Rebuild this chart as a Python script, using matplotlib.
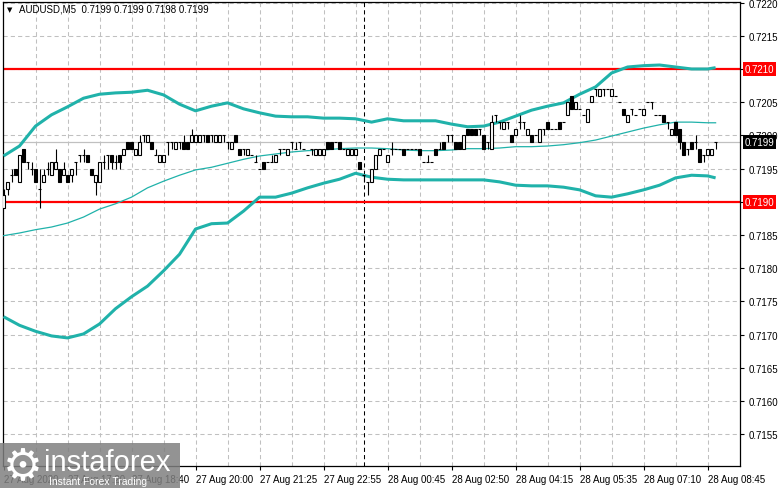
import numpy as np
import matplotlib
matplotlib.use("Agg")
import matplotlib.pyplot as plt
import matplotlib.transforms as mtransforms
from matplotlib.patches import Rectangle

# ── data ──
title_text = "AUDUSD,M5  0.7199 0.7199 0.7198 0.7199"

# M5 candles, prices in points (x 0.0001)
opens = [
    7189, 7192, 7194, 7195, 7193, 7198, 7196, 7195, 7195, 7192,
    7193, 7195, 7194, 7195, 7195, 7194, 7194, 7194, 7196, 7197,
    7197, 7197, 7195, 7193, 7193, 7196, 7197, 7197, 7196, 7197,
    7197, 7199, 7199, 7197, 7197, 7200, 7199, 7199, 7197, 7196,
    7196, 7199, 7199, 7198, 7199, 7199, 7199, 7199, 7199, 7199,
    7200, 7200, 7200, 7199, 7199, 7200, 7199, 7198, 7200, 7198,
    7198, 7197, 7197, 7196, 7195, 7196, 7196, 7196, 7196, 7198,
    7198, 7197, 7199, 7198, 7199, 7198, 7197, 7198, 7197, 7197,
    7197, 7199, 7199, 7199, 7199, 7198, 7197, 7197, 7197, 7196,
    7194, 7193, 7193, 7195, 7197, 7198, 7196, 7198, 7198, 7198,
    7198, 7198, 7198, 7198, 7198, 7196, 7196, 7196, 7198, 7198,
    7199, 7200, 7200, 7199, 7199, 7198, 7201, 7201, 7201, 7201,
    7200, 7199, 7198, 7203, 7202, 7201, 7202, 7200, 7200, 7202,
    7202, 7200, 7200, 7200, 7199, 7201, 7202, 7201, 7201, 7202,
    7202, 7203, 7206, 7204, 7204, 7203, 7202, 7205, 7207, 7206,
    7207, 7207, 7206, 7206, 7205, 7204, 7202, 7204, 7203, 7204,
    7203, 7205, 7205, 7203, 7203, 7203, 7202, 7200, 7202, 7201,
    7199, 7198, 7199, 7199, 7198, 7197, 7197, 7197, 7199,
]
highs = [
    7192, 7193, 7195, 7195, 7197, 7198, 7196, 7196, 7195, 7195,
    7195, 7196, 7196, 7198, 7195, 7196, 7194, 7195, 7196, 7197,
    7198, 7197, 7195, 7194, 7196, 7197, 7197, 7197, 7197, 7197,
    7198, 7199, 7199, 7198, 7200, 7200, 7200, 7199, 7198, 7197,
    7197, 7199, 7199, 7199, 7199, 7200, 7199, 7201, 7200, 7200,
    7200, 7200, 7200, 7200, 7200, 7200, 7199, 7199, 7200, 7198,
    7198, 7198, 7197, 7197, 7195, 7196, 7196, 7197, 7197, 7198,
    7198, 7198, 7199, 7199, 7199, 7198, 7197, 7198, 7198, 7198,
    7198, 7199, 7199, 7199, 7199, 7198, 7198, 7198, 7198, 7196,
    7194, 7193, 7195, 7197, 7198, 7198, 7197, 7199, 7198, 7198,
    7198, 7198, 7198, 7198, 7198, 7196, 7197, 7196, 7198, 7199,
    7199, 7200, 7200, 7199, 7199, 7200, 7201, 7201, 7201, 7201,
    7200, 7199, 7203, 7203, 7202, 7202, 7202, 7200, 7201, 7203,
    7202, 7201, 7200, 7200, 7201, 7201, 7202, 7201, 7201, 7202,
    7202, 7205, 7206, 7205, 7204, 7203, 7204, 7206, 7207, 7207,
    7207, 7207, 7207, 7206, 7205, 7204, 7203, 7204, 7203, 7204,
    7204, 7205, 7205, 7203, 7203, 7203, 7202, 7201, 7202, 7201,
    7199, 7198, 7199, 7200, 7198, 7197, 7198, 7198, 7199,
]
lows = [
    7189, 7191, 7193, 7194, 7193, 7196, 7195, 7194, 7193, 7189,
    7193, 7194, 7194, 7195, 7193, 7194, 7193, 7193, 7194, 7196,
    7196, 7196, 7194, 7191, 7193, 7195, 7195, 7195, 7195, 7195,
    7197, 7198, 7198, 7197, 7197, 7199, 7199, 7198, 7197, 7196,
    7196, 7197, 7198, 7198, 7198, 7198, 7198, 7199, 7199, 7199,
    7199, 7199, 7199, 7199, 7199, 7199, 7198, 7198, 7199, 7197,
    7197, 7197, 7197, 7196, 7195, 7195, 7196, 7196, 7196, 7197,
    7198, 7197, 7198, 7198, 7198, 7198, 7197, 7197, 7197, 7197,
    7197, 7198, 7198, 7199, 7198, 7198, 7197, 7197, 7197, 7195,
    7193, 7191, 7193, 7195, 7197, 7198, 7196, 7197, 7198, 7198,
    7197, 7198, 7198, 7198, 7197, 7196, 7196, 7196, 7197, 7198,
    7198, 7199, 7199, 7198, 7198, 7198, 7200, 7200, 7200, 7200,
    7198, 7198, 7198, 7202, 7201, 7201, 7201, 7199, 7200, 7201,
    7201, 7200, 7199, 7200, 7199, 7200, 7201, 7201, 7201, 7201,
    7202, 7203, 7204, 7204, 7204, 7203, 7202, 7205, 7206, 7206,
    7206, 7207, 7206, 7206, 7205, 7203, 7202, 7203, 7203, 7204,
    7203, 7205, 7204, 7203, 7203, 7202, 7201, 7200, 7200, 7198,
    7197, 7197, 7198, 7198, 7196, 7196, 7197, 7197, 7198,
]
closes = [
    7191, 7193, 7194, 7194, 7197, 7196, 7196, 7195, 7193, 7192,
    7194, 7195, 7196, 7196, 7193, 7195, 7193, 7195, 7196, 7197,
    7197, 7196, 7194, 7194, 7196, 7196, 7197, 7196, 7196, 7196,
    7198, 7198, 7198, 7198, 7199, 7200, 7200, 7198, 7197, 7197,
    7197, 7199, 7199, 7199, 7199, 7198, 7198, 7200, 7200, 7200,
    7200, 7199, 7200, 7200, 7200, 7200, 7199, 7199, 7199, 7197,
    7198, 7198, 7197, 7196, 7195, 7195, 7196, 7196, 7197, 7198,
    7198, 7198, 7199, 7198, 7199, 7198, 7197, 7198, 7198, 7198,
    7198, 7198, 7198, 7199, 7198, 7198, 7198, 7198, 7198, 7195,
    7194, 7193, 7195, 7197, 7198, 7198, 7197, 7198, 7198, 7198,
    7197, 7198, 7198, 7198, 7197, 7196, 7196, 7196, 7197, 7198,
    7198, 7200, 7200, 7198, 7198, 7200, 7200, 7200, 7200, 7201,
    7198, 7199, 7202, 7203, 7202, 7202, 7202, 7199, 7201, 7202,
    7202, 7201, 7199, 7200, 7201, 7201, 7201, 7201, 7201, 7201,
    7202, 7205, 7204, 7205, 7204, 7203, 7204, 7206, 7207, 7207,
    7207, 7207, 7207, 7206, 7205, 7203, 7203, 7204, 7203, 7204,
    7204, 7205, 7205, 7203, 7203, 7202, 7202, 7201, 7200, 7199,
    7197, 7198, 7198, 7199, 7196, 7197, 7198, 7198, 7199,
]

# Bollinger bands, sampled every 4 bars
band_bars = [0, 4, 8, 12, 16, 20, 24, 28, 32, 36, 40, 44, 48, 52, 56, 60,
             64, 68, 72, 76, 80, 84, 88, 92, 96, 100, 104, 108, 112, 116,
             120, 124, 128, 132, 136, 140, 144, 148, 152, 156, 160, 164,
             168, 172, 176, 178]
upper_band = [
    0.71969, 0.71984, 0.72014, 0.72031, 0.72043, 0.72056, 0.72062, 0.72064,
    0.72065, 0.72068, 0.72061, 0.72047, 0.72037, 0.72044, 0.72049, 0.72040,
    0.72034, 0.72029, 0.72028, 0.72028, 0.72026, 0.72026, 0.72025, 0.72020,
    0.72025, 0.72022, 0.72022, 0.72022, 0.72017, 0.72013, 0.72014, 0.72020,
    0.72029, 0.72038, 0.72044, 0.72049, 0.72062, 0.72073, 0.72094, 0.72103,
    0.72105, 0.72106, 0.72103, 0.72100, 0.72100, 0.72102,
]
middle_band = [
    0.71849, 0.71853, 0.71858, 0.71862, 0.71868, 0.71877, 0.71889, 0.71897,
    0.71907, 0.71921, 0.71931, 0.71940, 0.71948, 0.71952, 0.71958, 0.71964,
    0.71969, 0.71972, 0.71975, 0.71977, 0.71978, 0.71980, 0.71981, 0.71981,
    0.71980, 0.71978, 0.71977, 0.71977, 0.71978, 0.71980, 0.71980, 0.71981,
    0.71983, 0.71983, 0.71984, 0.71986, 0.71989, 0.71993, 0.71999, 0.72005,
    0.72011, 0.72016, 0.72020, 0.72020, 0.72019, 0.72019,
]
lower_band = [
    0.71727, 0.71714, 0.71705, 0.71698, 0.71695, 0.71701, 0.71716, 0.71739,
    0.71757, 0.71773, 0.71796, 0.71821, 0.71859, 0.71867, 0.71868, 0.71886,
    0.71907, 0.71907, 0.71913, 0.71921, 0.71928, 0.71934, 0.71943, 0.71937,
    0.71934, 0.71933, 0.71933, 0.71933, 0.71933, 0.71933, 0.71933, 0.71930,
    0.71925, 0.71924, 0.71924, 0.71922, 0.71918, 0.71909, 0.71907, 0.71912,
    0.71918, 0.71925, 0.71936, 0.71940, 0.71939, 0.71936,
]

levels = [0.7210, 0.7190]
last_price = 0.7199
day_separator_bar = 90

price_ticks = [0.7155, 0.7160, 0.7165, 0.7170, 0.7175, 0.7180, 0.7185,
               0.7190, 0.7195, 0.7200, 0.7205, 0.7210, 0.7215, 0.7220]
time_tick_bars = [0, 16, 32, 48, 64, 80, 96, 112, 128, 144, 160, 176]
time_tick_labels = ["27 Aug 2020", "27 Aug 17:20", "27 Aug 18:40", "27 Aug 20:00",
                    "27 Aug 21:25", "27 Aug 22:55", "28 Aug 00:45", "28 Aug 02:50",
                    "28 Aug 04:15", "28 Aug 05:35", "28 Aug 07:10", "28 Aug 08:45"]

# ── plot ──
plt.rcParams["font.family"] = ["Liberation Sans", "DejaVu Sans"]
W, H = 781, 489
fig = plt.figure(figsize=(W / 100, H / 100), dpi=100)
ax = fig.add_axes([3 / W, 22 / H, 737 / W, 464 / H])
ax.set_xlim(-0.125, 184.1)
ax.set_ylim(0.715021, 0.722009)

o = np.array(opens) / 1e4
h = np.array(highs) / 1e4
l = np.array(lows) / 1e4
c = np.array(closes) / 1e4
x = np.arange(len(o))

grid_kw = dict(color="#c0c0c0", lw=0.75, ls=(0, (4, 3)), zorder=0)
for g in range(8, 184, 8):
    ax.axvline(g, **grid_kw)
for p in price_ticks:
    ax.axhline(p, **grid_kw)

ax.axvline(day_separator_bar, color="black", lw=0.75, ls=(0, (4, 3)), zorder=1)
ax.axhline(last_price, color="#c0c0c0", lw=0.9, zorder=1)
for lv in levels:
    ax.axhline(lv, color="red", lw=1.6, zorder=2)

teal = "#20b2aa"
ax.plot(band_bars, upper_band, color=teal, lw=2.2, zorder=3, solid_capstyle="butt")
ax.plot(band_bars, lower_band, color=teal, lw=2.2, zorder=3, solid_capstyle="butt")
ax.plot(band_bars, middle_band, color=teal, lw=0.9, zorder=3)

# candles
ax.vlines(x, l, h, color="black", lw=0.8, zorder=4)
up = c > o
dn = c < o
dj = c == o
ax.bar(x[up], (c - o)[up], bottom=o[up], width=0.72, facecolor="white",
       edgecolor="black", lw=0.8, zorder=5)
ax.bar(x[dn], (o - c)[dn], bottom=c[dn], width=0.72, facecolor="black",
       edgecolor="black", lw=0.8, zorder=5)
ax.hlines(o[dj], x[dj] - 0.45, x[dj] + 0.45, color="black", lw=0.8, zorder=5)

# axes styling
for s in ax.spines.values():
    s.set_color("black")
    s.set_linewidth(0.9)
ax.yaxis.tick_right()
ax.set_yticks(price_ticks)
# levels are shown by their coloured tags, which hide the plain labels
ax.set_yticklabels(["" if round(p, 4) in levels else f"{p:.4f}" for p in price_ticks])
ax.set_xticks(time_tick_bars)
ax.set_xticklabels(time_tick_labels, ha="left")
ax.tick_params(axis="both", labelsize=7, length=3, width=0.8, color="black",
               direction="out")
ax.tick_params(axis="y", pad=3)
ax.tick_params(axis="x", pad=3)

# price tags on the scale
trans = mtransforms.blended_transform_factory(ax.transAxes, ax.transData)
for lv in levels:
    ax.text(1.0065, lv, f"{lv:.4f}", transform=trans, fontsize=7, color="white",
            ha="left", va="center", zorder=6, clip_on=False,
            bbox=dict(boxstyle="square,pad=0.2", fc="red", ec="none"))
ax.text(1.0065, last_price, f"{last_price:.4f}", transform=trans, fontsize=7,
        color="white", ha="left", va="center", zorder=6, clip_on=False,
        bbox=dict(boxstyle="square,pad=0.2", fc="black", ec="none"))

# title
fig.text(7 / W, 1 - 10 / H, "\u25bc", fontsize=5, va="center", ha="left",
         family=["DejaVu Sans"])
fig.text(19 / W, 1 - 10 / H, title_text, fontsize=7, va="center", ha="left")

# watermark
fig.patches.append(Rectangle((0, 0), 180 / W, 45 / H, transform=fig.transFigure,
                             facecolor="#808080", alpha=0.85, edgecolor="none",
                             zorder=10))
fig.text(23 / W, 22 / H, "\u2699", fontsize=32, color="white", ha="center",
         va="center", family=["DejaVu Sans"], zorder=11)
fig.text(44 / W, 26 / H, "instaforex", fontsize=21, color="white", ha="left",
         va="center", zorder=11)
fig.text(49 / W, 7 / H, "Instant Forex Trading", fontsize=7.5, color="white",
         ha="left", va="center", zorder=11)

fig.savefig("out.png", dpi=100)
